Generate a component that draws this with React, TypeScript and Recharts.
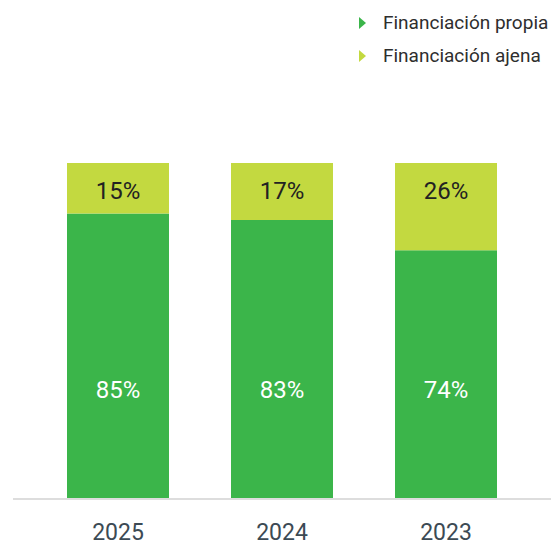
import { BarChart, Bar, XAxis, YAxis, Legend, LabelList } from "recharts";

const years = ["2025", "2024", "2023"];
const propia = [85, 83, 74];
const ajena = [15, 17, 26];

const GREEN = "#3bb54a";
const LIME = "#c3d940";
const FONT = "Roboto, 'Liberation Sans', sans-serif";

const data = years.map((year, i) => ({ year, propia: propia[i], ajena: ajena[i] }));

const legendItems = [
  { label: "Financiación propia", color: GREEN },
  { label: "Financiación ajena", color: LIME },
];

function LegendContent() {
  return (
    <div style={{ fontFamily: FONT, fontSize: 19, color: "#2e2e2e" }}>
      {legendItems.map((it) => (
        <div key={it.label} style={{ display: "flex", alignItems: "center", height: 33 }}>
          <svg width={8} height={12} style={{ marginRight: 16 }}>
            <polygon points="0,0 7,6 0,12" fill={it.color} />
          </svg>
          <span>{it.label}</span>
        </div>
      ))}
    </div>
  );
}

// labels on the lime segment sit near its top, the green ones at a fixed height above the axis
function TopLabel(props: any) {
  const { x, y, width, value } = props;
  return (
    <text x={x + width / 2} y={y + 28} textAnchor="middle" dominantBaseline="central"
      fill="#222" fontSize={24} fontFamily={FONT}>
      {value}%
    </text>
  );
}

function BottomLabel(props: any) {
  const { x, y, width, height, value } = props;
  return (
    <text x={x + width / 2} y={y + height - 109} textAnchor="middle" dominantBaseline="central"
      fill="#fff" fontSize={24} fontFamily={FONT}>
      {value}%
    </text>
  );
}

export default function App() {
  return (
    <div style={{ position: "absolute", left: 0, top: 0, width: 551, height: 545, background: "#fff" }}>
      {/* legend is 66px tall and recharts adds it to the top offset */}
      <BarChart width={551} height={545} data={data} margin={{ top: 97, right: 0, left: 13, bottom: 0 }}>
        <XAxis
          dataKey="year"
          height={46}
          padding={{ left: 23, right: 23 }}
          tickLine={false}
          axisLine={{ stroke: "#dddddd", strokeWidth: 2 }}
          tick={{ fill: "#3c4a54", fontSize: 23, fontFamily: FONT }}
          tickMargin={19}
        />
        <YAxis hide domain={[0, 100]} />
        <Legend
          verticalAlign="top"
          align="left"
          content={<LegendContent />}
          wrapperStyle={{ top: 6, left: 359, width: 192 }}
        />
        <Bar dataKey="propia" stackId="a" fill={GREEN} barSize={102} isAnimationActive={false}>
          <LabelList dataKey="propia" content={<BottomLabel />} />
        </Bar>
        <Bar dataKey="ajena" stackId="a" fill={LIME} barSize={102} isAnimationActive={false}>
          <LabelList dataKey="ajena" content={<TopLabel />} />
        </Bar>
      </BarChart>
    </div>
  );
}
